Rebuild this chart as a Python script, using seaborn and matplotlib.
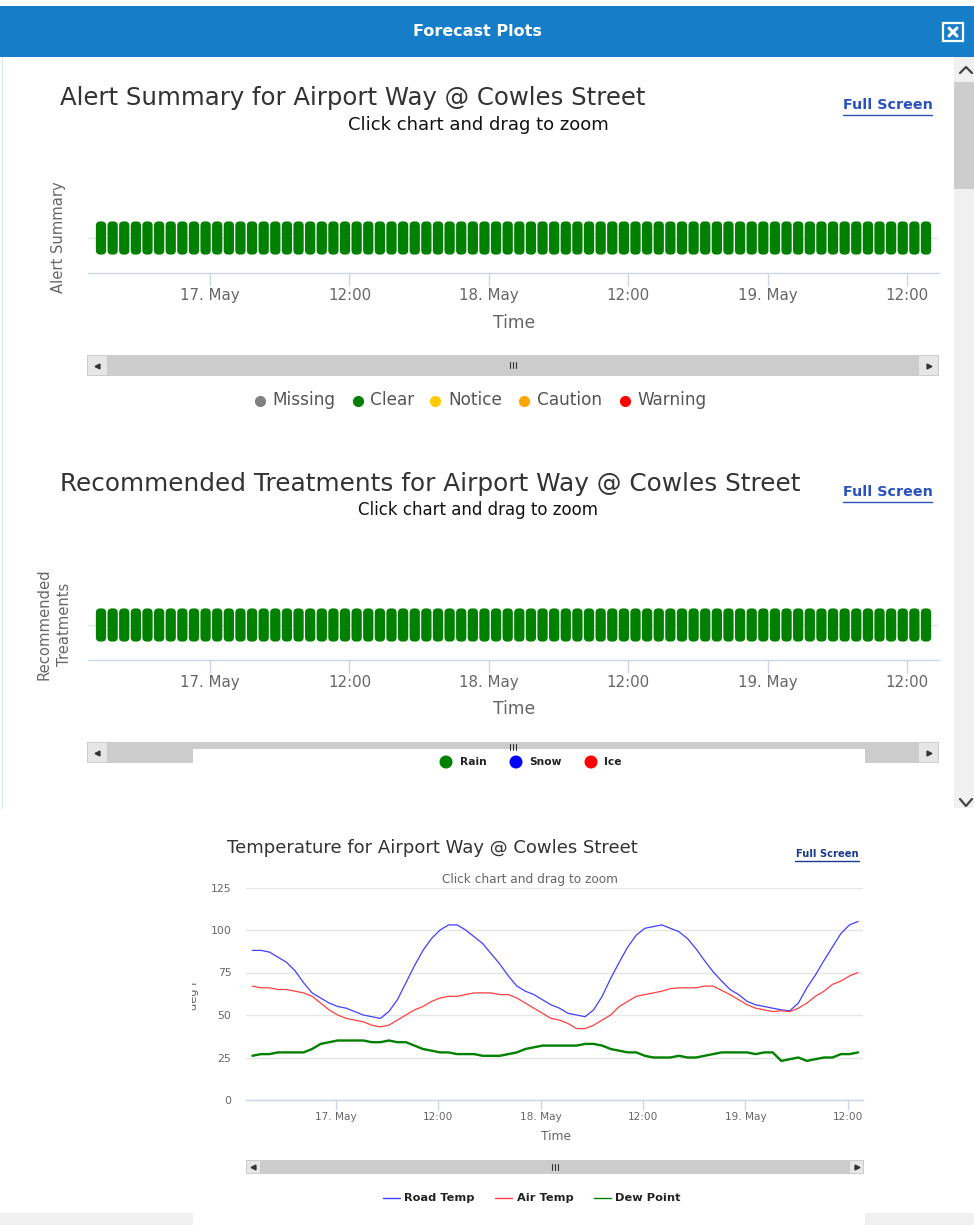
"""
Forecast Plots dialog: two status strips and a temperature chart.
"""

import numpy as np
import pandas as pd
import matplotlib
matplotlib.use("Agg")
import matplotlib.pyplot as plt
from matplotlib.patches import BoxStyle, Ellipse, Rectangle
import seaborn as sns

# hours counted from 17 May 00:00
TICK_HOURS = [0, 12, 24, 36, 48, 60]
TICK_LABELS = ["17. May", "12:00", "18. May", "12:00", "19. May", "12:00"]
TEMP_TICKS = [0, 25, 50, 75, 100, 125]

N_HOURS = 72
SITE = "Airport Way @ Cowles Street"

ALERT_NAMES = ["Missing", "Clear", "Notice", "Caution", "Warning"]
ALERT_COLORS = ["#808080", "#008000", "#ffcc00", "#ffa500", "#ff0000"]
TREAT_NAMES = ["Rain", "Snow", "Ice"]
TREAT_COLORS = ["#008000", "#0000ff", "#ff0000"]

alert_status = ["Clear"] * N_HOURS
treat_status = ["Rain"] * N_HOURS

road_temp = [88, 88, 87, 84, 81, 76, 69, 63, 60, 57, 55, 54, 52, 50, 49, 48, 52, 59,
             69, 79, 88, 95, 100, 103, 103, 100, 96, 92, 86, 80, 73, 67, 64, 62, 59, 56,
             54, 51, 50, 49, 53, 61, 71.5, 81, 90, 97, 101, 102, 103, 101, 99, 95, 89, 82,
             75.5, 70, 65, 62, 58, 56, 55, 54, 53, 52.5, 57, 66, 73.5, 82, 90, 98, 103, 105]
air_temp = [67, 66, 66, 65, 65, 64, 63, 61, 57, 53, 50, 48, 47, 46, 44, 43, 44, 47,
            50, 53, 55, 58, 60, 61, 61, 62, 63, 63, 63, 62, 62, 60, 57, 54, 51, 48,
            47, 45, 42, 42, 44, 47, 50, 55, 58, 61, 62, 63, 64, 65.5, 66, 66, 66, 67,
            67, 64.5, 62, 59, 56, 54, 53, 52, 52.5, 52, 54, 57, 61, 64, 68, 70, 73, 75]
dew_point = [26, 27, 27, 28, 28, 28, 28, 30, 33, 34, 35, 35, 35, 35, 34, 34, 35, 34,
             34, 32, 30, 29, 28, 28, 27, 27, 27, 26, 26, 26, 27, 28, 30, 31, 32, 32,
             32, 32, 32, 33, 33, 32, 30, 29, 28, 28, 26, 25, 25, 25, 26, 25, 25, 26,
             27, 28, 28, 28, 28, 27, 28, 28, 23, 24, 25, 23, 24, 25, 25, 27, 27, 28]

GREY = "#666666"
AXIS = "#ccd6eb"
GRID = "#e6e6e6"
LINK = "#2a52be"

sns.set_theme(style="white")
plt.rcParams["font.family"] = ["DejaVu Sans"]

fig = plt.figure(figsize=(9.74, 12.25), dpi=100, facecolor="white")

# page furniture is drawn in pixel coordinates on a full size axes
page = fig.add_axes([0, 0, 1, 1], zorder=0)
page.set_xlim(0, 974)
page.set_ylim(1225, 0)
page.axis("off")


def box(x0, y0, x1, y1, color, **kw):
    page.add_patch(Rectangle((x0, y0), x1 - x0, y1 - y0, facecolor=color, edgecolor="none", **kw))


def label(x, y, s, size, color=GREY, ha="left", **kw):
    return page.text(x, y, s, fontsize=size, color=color, ha=ha, va="center", **kw)


def link(x0, x1, y, size, color=LINK):
    label((x0 + x1) / 2, y, "Full Screen", size, color, ha="center", fontweight="bold")
    page.plot([x0, x1], [y + size * 0.95, y + size * 0.95], color=color, lw=1)


def scrollbar(x0, x1, y0, y1, btn, grip_y):
    box(x0, y0, x1, y1, "#cccccc")
    box(x0 + 1, y0 + 1, x0 + btn, y1 - 1, "#e6e6e6")
    box(x1 - btn, y0 + 1, x1 - 1, y1 - 1, "#e6e6e6")
    mid = (y0 + y1) / 2
    page.plot([x0 + btn / 2], [mid], marker="<", ms=3.5, color="#333333")
    page.plot([x1 - btn / 2], [mid], marker=">", ms=3.5, color="#333333")
    gx = (x0 + x1) / 2
    for dx in (-3, 0, 3):
        page.plot([gx + dx, gx + dx], [grip_y - 3, grip_y + 3], color="#333333", lw=0.8)


def chart_axes(x0, x1, y_top, y_bottom):
    ax = fig.add_axes([x0 / 974, 1 - y_bottom / 1225, (x1 - x0) / 974, (y_bottom - y_top) / 1225], zorder=2)
    ax.patch.set_alpha(0)
    sns.despine(ax=ax, left=True, top=True, right=True)
    ax.spines["bottom"].set_color(AXIS)
    ax.spines["bottom"].set_linewidth(1)
    return ax


# rounded block used for every hourly status mark
block = BoxStyle("Round", pad=0, rounding_size=0.26)(-0.31, -1, 0.62, 2, 1)


def status_strip(y_axis, status, names, colors):
    ax = chart_axes(88, 939, y_axis - 70, y_axis)
    hours = np.arange(N_HOURS) - 9.38
    df = pd.DataFrame({"hour": hours, "row": 0, "status": status})
    sns.scatterplot(data=df, x="hour", y="row", hue="status", palette=dict(zip(names, colors)),
                    marker=block, s=570, linewidth=0, edgecolor="none", legend=False, ax=ax, zorder=3)
    ax.axhline(0, color=GRID, lw=1, zorder=1)
    ax.set_xlim(-10.5, 62.74)
    ax.set_ylim(-1, 1)
    ax.set_yticks([])
    ax.set_xticks(TICK_HOURS)
    ax.set_xticklabels(TICK_LABELS, fontsize=10.8, color=GREY)
    ax.tick_params(axis="x", length=9.5, width=1, color=AXIS, pad=1.5, bottom=True)
    ax.set_xlabel("")
    ax.set_ylabel("")
    return ax


# header and window scrollbar
box(0, 6, 974, 57, "#167ec9")
label(477, 31, "Forecast Plots", 11.5, "white", ha="center", fontweight="bold")
page.add_patch(Rectangle((943, 23), 20, 18, facecolor="none", edgecolor="white", lw=1.6))
page.plot([949, 957], [28, 36], color="white", lw=2.2)
page.plot([949, 957], [36, 28], color="white", lw=2.2)
box(954, 57, 974, 808, "#f0f0f0")
box(954, 82, 974, 189, "#cdcdcd")
page.plot([960, 966, 972], [73, 67, 73], color="#444444", lw=1.6)
page.plot([960, 966, 972], [799, 806, 799], color="#444444", lw=1.6)
page.plot([1.5, 1.5], [57, 808], color="#d8eedd", lw=1)

# alert strip
status_strip(273, alert_status, ALERT_NAMES, ALERT_COLORS)
label(60, 98, "Alert Summary for " + SITE, 17.6, "#333333")
label(478, 125, "Click chart and drag to zoom", 13, "#111111", ha="center")
link(843, 932, 105, 10.3)
label(58, 237, "Alert Summary", 10.6, rotation=90, ha="center")
label(514, 323, "Time", 12.3, ha="center")
scrollbar(87, 939, 355, 376, 20, 365)
for mx, tx, name, col in zip([260, 358, 435, 524, 625], [272, 370, 448, 537, 637], ALERT_NAMES, ALERT_COLORS):
    page.plot([mx], [401], marker="o", ms=7, color=col)
    label(tx, 400, name, 12.2, "#555555")

# treatment strip
status_strip(660, treat_status, TREAT_NAMES, TREAT_COLORS)
label(60, 484, "Recommended Treatments for " + SITE, 17.85, "#333333")
label(478, 510, "Click chart and drag to zoom", 12, "#111111", ha="center")
link(843, 932, 492, 10.3)
label(54.5, 624, "Recommended\nTreatments", 10.6, rotation=90, ha="center", linespacing=1.45)
label(514, 709, "Time", 12.3, ha="center")
scrollbar(87, 939, 742, 763, 20, 747)
box(193, 749, 865, 808, "white")
for mx, tx, name, col in zip([446, 516, 591], [460, 529, 604], TREAT_NAMES, TREAT_COLORS):
    page.add_patch(Ellipse((mx, 762), 13, 13, facecolor=col, edgecolor="none"))
    label(tx, 762, name, 7.7, "#222222", fontweight="bold")

# temperature chart
temp_df = pd.DataFrame({
    "hour": np.arange(N_HOURS) - 9.8,
    "Road Temp": road_temp,
    "Air Temp": air_temp,
    "Dew Point": dew_point,
}).melt(id_vars="hour", var_name="series", value_name="temp")

ax = chart_axes(246, 863, 887.5, 1100)
ax.yaxis.grid(True, color=GRID, lw=1)
ax.set_axisbelow(True)
sns.lineplot(data=temp_df, x="hour", y="temp", hue="series",
             palette={"Road Temp": "#4040ff", "Air Temp": "#ff4040", "Dew Point": "#008000"},
             size="series", sizes={"Road Temp": 0.9, "Air Temp": 0.9, "Dew Point": 1.7},
             errorbar=None, legend=False, ax=ax)
ax.set_xlim(-10.55, 61.78)
ax.set_ylim(0, 125)
ax.set_yticks(TEMP_TICKS)
ax.set_yticklabels(TEMP_TICKS, fontsize=7.8, color=GREY)
ax.set_xticks(TICK_HOURS)
ax.set_xticklabels(TICK_LABELS, fontsize=7.6, color=GREY)
ax.tick_params(axis="x", length=7, width=1, color=AXIS, pad=1.5, bottom=True)
ax.tick_params(axis="y", length=0, pad=10.5)
ax.set_xlabel("")
ax.set_ylabel("")

box(0, 1213, 193, 1225, "#f0f0f0")
box(865, 1213, 974, 1225, "#f0f0f0")
label(227, 848, "Temperature for " + SITE, 13, "#333333")
label(530, 880, "Click chart and drag to zoom", 8.7, ha="center")
link(795, 859, 854, 7.2, "#1a3a8a")
label(556, 1136, "Time", 8.8, ha="center")
# the unit label is cut by the edge of the pasted panel in the original
cut = Rectangle((192, 960), 20, 70, transform=page.transData)
unit = label(194, 994, "deg F", 8.2, rotation=90, ha="center")
unit.set_clip_path(cut)
unit.set_clip_on(True)
scrollbar(246, 864, 1160, 1174, 14, 1167)
for x0, tx, name, col in zip([383, 495, 594], [404, 517, 615], ["Road Temp", "Air Temp", "Dew Point"],
                             ["#4040ff", "#ff4040", "#008000"]):
    page.plot([x0, x0 + 17], [1198, 1198], color=col, lw=1)
    label(tx, 1198, name, 8.2, "#222222", fontweight="bold")

fig.savefig("out.png", dpi=100)
plt.close(fig)
